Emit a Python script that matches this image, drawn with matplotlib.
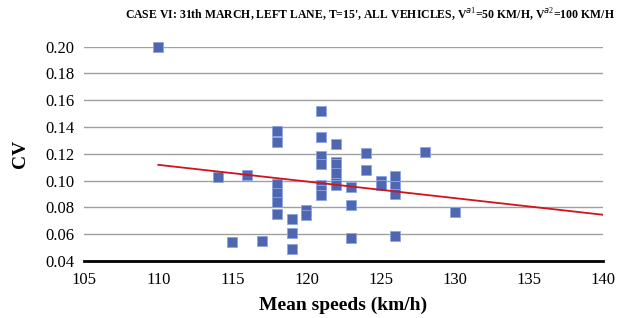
import matplotlib
matplotlib.use("Agg")
import matplotlib.pyplot as plt
import numpy as np

plt.rcParams['font.family'] = ['Liberation Serif', 'DejaVu Serif']
plt.rcParams['mathtext.fontset'] = 'custom'
plt.rcParams['mathtext.rm'] = 'Liberation Serif'

# mean speed (km/h) and coefficient of variation
speed = [110, 114, 116, 115, 117,
         118, 118, 118, 118, 118, 118,
         119, 119, 119,
         120, 120,
         121, 121, 121, 121, 121, 121, 121,
         122, 122, 122, 122, 122, 122,
         123, 123, 123,
         124, 124,
         125, 125,
         126, 126, 126, 126,
         128, 130]
cv = [0.200, 0.1025, 0.104, 0.054, 0.055,
      0.137, 0.129, 0.0975, 0.0905, 0.084, 0.075,
      0.071, 0.061, 0.049,
      0.078, 0.074,
      0.152, 0.1325, 0.1185, 0.1125, 0.0965, 0.093, 0.089,
      0.127, 0.114, 0.112, 0.1055, 0.0985, 0.097,
      0.0955, 0.082, 0.057,
      0.1205, 0.1075,
      0.0995, 0.097,
      0.103, 0.096, 0.090, 0.0585,
      0.121, 0.0765]

xticks = [105, 110, 115, 120, 125, 130, 135, 140]
yticks = [0.04, 0.06, 0.08, 0.10, 0.12, 0.14, 0.16, 0.18, 0.20]

fig = plt.figure(figsize=(6.19, 3.18), dpi=100)
ax = fig.add_axes([0.136, 0.18, 0.838, 0.673])

ax.scatter(speed, cv, marker='s', s=62, color='#4e67b0',
           edgecolors='#8ea6e6', linewidths=0.6, zorder=3, clip_on=False)

# linear trend line, forecast forward to 140
k, b = np.polyfit(speed, cv, 1)
tx = np.array([min(speed), 140])
ax.plot(tx, k * tx + b, color='#d0141c', lw=1.3, zorder=4)

ax.set_xlim(105, 140)
ax.set_ylim(0.04, 0.20)
ax.set_xticks(xticks)
ax.set_yticks(yticks)
ax.set_yticklabels(['%.2f' % v for v in yticks])
ax.tick_params(length=0, labelsize=12)
ax.tick_params(axis='y', pad=7)
ax.tick_params(axis='x', pad=8)
ax.grid(axis='y', color='#a0a0a0', lw=1.0)
ax.set_axisbelow(True)
for s in ['left', 'right', 'top']:
    ax.spines[s].set_visible(False)
ax.spines['bottom'].set_linewidth(2)
ax.spines['bottom'].set_color('black')

ax.set_xlabel('Mean speeds (km/h)', fontsize=14, fontweight='bold', labelpad=6)
ax.set_ylabel('CV', fontsize=14, fontweight='bold', labelpad=12)

fig.text(0.598, 0.955,
         "CASE VI: 31th MARCH, LEFT LANE, T=15', ALL VEHICLES, V$^{a1}$=50 KM/H, V$^{a2}$=100 KM/H",
         ha='center', va='center', fontsize=8.5, fontweight='bold')

fig.savefig('out.png', dpi=100)
